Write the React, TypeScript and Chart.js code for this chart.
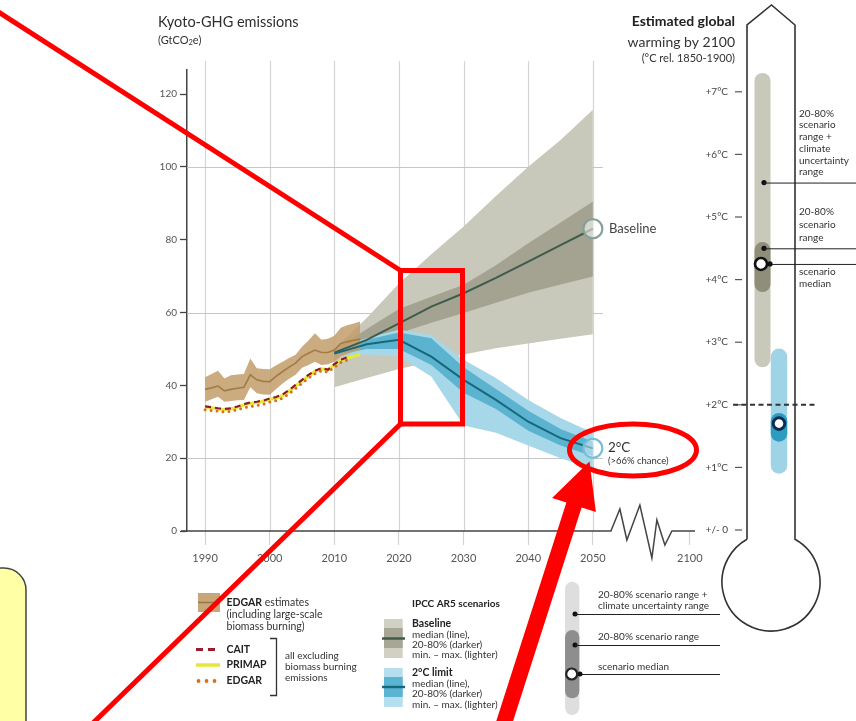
import React, { useEffect, useRef } from 'react';
import { Chart, registerables } from 'chart.js';
Chart.register(...registerables);

const FONT = 'Lato, "Open Sans", sans-serif';

// ---------- historical data (GtCO2e) ----------
const histYears = [1990,1991,1992,1993,1994,1995,1996,1997,1998,1999,2000,2001,2002,2003,2004,2005,2006,2007,2008,2009,2010,2011,2012,2013,2014];
const edgarEstMid = [38.9,39.3,39.8,38.5,38.9,39.2,39.5,42.9,41.5,41.1,41.0,42.5,43.8,45.0,46.1,47.9,48.8,49.7,49.0,49.0,49.7,51.5,52.0,52.4,52.7];
const edgarEstHigh = [42.2,43.1,44.0,41.9,42.8,43.0,43.1,47.4,44.7,44.5,44.4,45.5,46.5,47.5,48.4,50.6,52.3,54.3,52.5,52.8,53.6,55.8,56.5,57.0,57.5];
const edgarEstLow = [35.5,36.2,36.9,35.5,35.7,35.9,36.0,39.5,37.8,37.5,37.4,39.0,40.5,41.8,42.9,44.8,45.6,46.5,45.6,45.8,46.5,48.0,48.6,49.2,49.7];
const primapVals = [34.0,33.8,33.5,33.3,33.5,34.0,34.6,35.0,35.3,35.6,36.2,36.5,37.2,38.4,39.8,41.2,42.6,43.8,44.5,44.2,45.6,46.8,47.5,48.0,48.5];
const caitVals = [34.2,34.0,33.7,33.5,33.7,34.2,34.8,35.3,35.5,35.8,36.4,36.8,37.5,38.7,40.1,41.5,42.9,44.0,44.7,44.3,45.8,47.0,47.7];
const edgarVals = [33.3,33.1,32.9,32.7,32.9,33.3,33.8,34.2,34.5,34.8,35.4,35.8,36.5,37.7,39.1,40.6,42.0,43.2,44.0,43.6,45.0,46.3,47.0];

// ---------- IPCC AR5 scenarios ----------
const scenYears = [2010,2015,2020,2025,2030,2035,2040,2045,2050];
const baseMax = [50.0,58.5,68.0,76.0,83.6,92.0,100.0,107.4,115.7];
const baseP80 = [49.5,55.5,61.0,64.3,67.6,73.0,79.0,84.7,90.5];
const baseMedian = [49.0,52.5,57.0,61.6,65.3,69.5,74.0,78.5,83.0];
const baseP20 = [48.5,51.5,54.3,57.2,59.9,62.7,65.4,67.7,69.9];
const baseMin = [39.5,42.0,44.5,46.5,48.5,50.2,51.5,52.8,54.0];
const limMax = [49.8,53.0,55.3,53.8,47.0,42.0,36.0,31.0,27.0];
const limP80 = [49.3,52.5,54.5,52.9,45.0,39.0,33.0,28.0,24.5];
const limMedian = [48.7,51.3,52.5,47.9,41.5,36.0,30.0,25.5,22.7];
const limP20 = [48.3,50.0,50.0,45.6,38.0,33.5,27.5,23.5,20.5];
const limMin = [48.0,48.5,47.9,42.4,29.0,27.0,23.5,20.0,17.0];

// ---------- axes ----------
const yTickValues = [0,20,40,60,80,100,120];
const gridYValues = [20,60,100];
const xTickYears = [1990,2000,2010,2020,2030,2040,2050,2100];
const xTickLabels = ['1990','2000','2010','2020','2030','2040','2050','2100'];
const gridXYears = [1990,2000,2010,2020,2030,2040,2050];

// ---------- warming by 2100 (°C rel. 1850-1900) ----------
const thermoTicks = [0,1,2,3,4,5,6,7];
const thermoTickLabels = ['+/- 0','+1°C','+2°C','+3°C','+4°C','+5°C','+6°C','+7°C'];
const baselineWarm = [2.6, 3.8, 4.25, 4.6, 7.3]; // low, p20, median, p80, high
const limitWarm = [0.9, 1.41, 1.7, 1.87, 2.9];
const baselinePointers = [5.55, 4.5];

// compressed time axis after 2050
const X = (year: number) => (year <= 2050 ? year : 2050 + (year - 2050) * 0.3);
const pts = (years: number[], vals: number[]) => years.map((y, i) => ({ x: X(y), y: vals[i] }));

function txt(ctx: CanvasRenderingContext2D, s: string, x: number, y: number, size: number, color: string, bold = false, align: CanvasTextAlign = 'left') {
  ctx.font = `${bold ? 'bold ' : ''}${size}px ${FONT}`;
  ctx.fillStyle = color;
  ctx.textAlign = align;
  ctx.textBaseline = 'middle';
  ctx.fillText(s, x, y);
}

function bar(ctx: CanvasRenderingContext2D, x: number, yTop: number, yBot: number, w: number, color: string) {
  ctx.save();
  ctx.strokeStyle = color;
  ctx.lineWidth = w;
  ctx.lineCap = 'round';
  ctx.beginPath();
  ctx.moveTo(x, yTop + w / 2);
  ctx.lineTo(x, Math.max(yTop + w / 2, yBot - w / 2));
  ctx.stroke();
  ctx.restore();
}

const decorPlugin = {
  id: 'decor',
  beforeDraw(chart: any) {
    const ctx = chart.ctx;
    ctx.save();
    ctx.fillStyle = '#fff';
    ctx.fillRect(0, 0, chart.width, chart.height);
    ctx.restore();
  },
  beforeDatasetsDraw(chart: any) {
    const ctx = chart.ctx as CanvasRenderingContext2D;
    const xs = chart.scales.x, ys = chart.scales.y;
    const ca = chart.chartArea;
    ctx.save();
    ctx.strokeStyle = '#d4d4d4';
    ctx.lineWidth = 1.2;
    gridXYears.forEach((yr) => {
      const px = Math.round(xs.getPixelForValue(X(yr))) + 0.5;
      ctx.beginPath(); ctx.moveTo(px, ca.top - 9); ctx.lineTo(px, ca.bottom); ctx.stroke();
    });
    ctx.strokeStyle = '#c6c6c6';
    const right = xs.getPixelForValue(2050) + 10;
    gridYValues.forEach((v) => {
      const py = Math.round(ys.getPixelForValue(v)) + 0.5;
      ctx.beginPath(); ctx.moveTo(ca.left, py); ctx.lineTo(right, py); ctx.stroke();
    });
    ctx.restore();
  },
  afterDatasetsDraw(chart: any) {
    const ctx = chart.ctx as CanvasRenderingContext2D;
    const xs = chart.scales.x, ys = chart.scales.y;
    const ca = chart.chartArea;
    const y0 = ys.getPixelForValue(0);
    // zero line with axis break
    const bx = xs.getPixelForValue(2050) + 18;
    ctx.save();
    ctx.strokeStyle = '#444';
    ctx.lineWidth = 1.5;
    ctx.beginPath();
    ctx.moveTo(ca.left - 6, y0);
    ctx.lineTo(bx, y0);
    const zz = [[9, -22], [16, 9], [29, -26], [41, 27], [46, -11], [54, 14], [61, 0]];
    zz.forEach(([dx, dy]) => ctx.lineTo(bx + dx, y0 + dy));
    ctx.lineTo(ca.right, y0);
    ctx.stroke();
    ctx.restore();

    // end labels
    const mb = chart.getDatasetMeta(10).data;
    const pb = mb[mb.length - 1];
    txt(ctx, 'Baseline', pb.x + 16, pb.y, 13, '#444');
    const ml = chart.getDatasetMeta(11).data;
    const pl = ml[ml.length - 1];
    txt(ctx, '2°C', pl.x + 15, pl.y - 1, 13.5, '#333');
    txt(ctx, '(>66% chance)', pl.x + 15, pl.y + 13, 9.5, '#333');
  },
  afterDraw(chart: any) {
    const ctx = chart.ctx as CanvasRenderingContext2D;
    // ----- titles -----
    txt(ctx, 'Kyoto-GHG emissions', 158, 22, 14.5, '#2e2e2e');
    ctx.font = `11px ${FONT}`;
    txt(ctx, '(GtCO', 158, 40, 11, '#333');
    let w = ctx.measureText('(GtCO').width;
    txt(ctx, '2', 158 + w, 43, 7.5, '#333');
    ctx.font = `7.5px ${FONT}`;
    const w2 = ctx.measureText('2').width;
    txt(ctx, 'e)', 158 + w + w2, 40, 11, '#333');

    txt(ctx, 'Estimated global', 735, 21.5, 14, '#222', true, 'right');
    txt(ctx, 'warming by 2100', 735, 42, 14, '#333', false, 'right');
    txt(ctx, '(°C rel. 1850-1900)', 735, 58.5, 11, '#333', false, 'right');

    // ----- thermometer -----
    const T = (t: number) => 530 - t * 62.6;
    const bcx = 771, bcy = 582, br = 49;
    const a0 = Math.asin(24 / br); // half-angle of the neck opening
    ctx.save();
    ctx.strokeStyle = '#333';
    ctx.lineWidth = 1.6;
    ctx.beginPath();
    const yJoin = bcy - br * Math.cos(a0);
    ctx.moveTo(747, yJoin);
    ctx.lineTo(747, 25);
    ctx.lineTo(771.5, 5);
    ctx.lineTo(795, 25);
    ctx.lineTo(795, yJoin);
    ctx.arc(bcx, bcy, br, -Math.PI / 2 + a0, -Math.PI / 2 - a0 + 2 * Math.PI, false);
    ctx.stroke();
    ctx.restore();

    thermoTicks.forEach((t, i) => {
      const y = T(t);
      txt(ctx, thermoTickLabels[i], 728, y, 10, '#444', false, 'right');
      ctx.save(); ctx.strokeStyle = '#555'; ctx.lineWidth = 1.2;
      ctx.beginPath(); ctx.moveTo(735, y); ctx.lineTo(742, y); ctx.stroke(); ctx.restore();
    });

    // baseline bars
    bar(ctx, 762.5, T(baselineWarm[4]), T(baselineWarm[0]), 16, '#c9c9bb');
    bar(ctx, 762.5, T(baselineWarm[3]), T(baselineWarm[1]), 16, '#8f8e7a');
    // 2°C bars
    bar(ctx, 779, T(limitWarm[4]), T(limitWarm[0]), 16.5, '#9fd3e6');
    bar(ctx, 779, T(limitWarm[3]), T(limitWarm[1]), 16.5, '#2c9cc0');

    // 2°C dashed line
    ctx.save();
    ctx.strokeStyle = '#333'; ctx.lineWidth = 2; ctx.setLineDash([5, 3.5]);
    ctx.beginPath(); ctx.moveTo(733, T(2)); ctx.lineTo(816, T(2)); ctx.stroke();
    ctx.restore();

    // pointer lines
    ctx.save();
    ctx.strokeStyle = '#222'; ctx.fillStyle = '#111'; ctx.lineWidth = 1;
    baselinePointers.forEach((t) => {
      const y = T(t);
      ctx.beginPath(); ctx.arc(764, y, 2.6, 0, Math.PI * 2); ctx.fill();
      ctx.beginPath(); ctx.moveTo(764, y + 0.5); ctx.lineTo(856, y + 0.5); ctx.stroke();
    });
    const ym = T(baselineWarm[2]);
    ctx.beginPath(); ctx.moveTo(770, ym + 0.5); ctx.lineTo(856, ym + 0.5); ctx.stroke();
    ctx.beginPath(); ctx.arc(770, ym, 2.6, 0, Math.PI * 2); ctx.fill();
    ctx.fillStyle = '#fff'; ctx.lineWidth = 2.6; ctx.strokeStyle = '#111';
    ctx.beginPath(); ctx.arc(761, ym, 6, 0, Math.PI * 2); ctx.fill(); ctx.stroke();
    const yl = T(limitWarm[2]);
    ctx.strokeStyle = '#0d2c52'; ctx.lineWidth = 3;
    ctx.beginPath(); ctx.arc(779, yl, 5.8, 0, Math.PI * 2); ctx.fill(); ctx.stroke();
    ctx.restore();

    const tc = '#333';
    ['20-80%', 'scenario', 'range +', 'climate', 'uncertainty', 'range'].forEach((s, i) => txt(ctx, s, 799, 113.5 + i * 11.7, 10, tc));
    ['20-80%', 'scenario', 'range'].forEach((s, i) => txt(ctx, s, 799, 212 + i * 12.8, 10, tc));
    ['scenario', 'median'].forEach((s, i) => txt(ctx, s, 799, 272 + i * 11.7, 10, tc));

    // ----- bottom legend: historical -----
    ctx.save();
    ctx.fillStyle = '#c9a67a';
    ctx.fillRect(198, 593, 22, 19);
    ctx.strokeStyle = '#9c7640'; ctx.lineWidth = 1.5;
    ctx.beginPath(); ctx.moveTo(198, 602.5); ctx.lineTo(220, 602.5); ctx.stroke();
    ctx.restore();
    ctx.font = `bold 10.5px ${FONT}`;
    txt(ctx, 'EDGAR', 226.5, 603, 10.5, '#222', true);
    const we = ctx.measureText('EDGAR').width;
    txt(ctx, ' estimates', 226.5 + we, 603, 10.5, '#333');
    txt(ctx, '(including large-scale', 226.5, 615, 10.5, '#333');
    txt(ctx, 'biomass burning)', 226.5, 627, 10.5, '#333');

    ctx.save();
    ctx.lineWidth = 3;
    ctx.strokeStyle = '#9b1b30'; ctx.setLineDash([7, 5]);
    ctx.beginPath(); ctx.moveTo(196, 649.5); ctx.lineTo(220, 649.5); ctx.stroke();
    ctx.setLineDash([]);
    ctx.strokeStyle = '#e6e63c'; ctx.lineWidth = 3.5;
    ctx.beginPath(); ctx.moveTo(196, 665); ctx.lineTo(220, 665); ctx.stroke();
    ctx.fillStyle = '#d4701e';
    [198.5, 206.5, 214.5].forEach((x) => { ctx.beginPath(); ctx.arc(x, 681, 1.9, 0, Math.PI * 2); ctx.fill(); });
    ctx.strokeStyle = '#333'; ctx.lineWidth = 1.3;
    ctx.beginPath(); ctx.moveTo(270, 638.5); ctx.lineTo(276.5, 638.5); ctx.lineTo(276.5, 695.5); ctx.lineTo(270, 695.5); ctx.stroke();
    ctx.restore();
    txt(ctx, 'CAIT', 226.5, 649.5, 10.5, '#222', true);
    txt(ctx, 'PRIMAP', 226.5, 665, 10.5, '#222', true);
    txt(ctx, 'EDGAR', 226.5, 681, 10.5, '#222', true);
    txt(ctx, 'all excluding', 285, 656, 10, '#333');
    txt(ctx, 'biomass burning', 285, 667, 10, '#333');
    txt(ctx, 'emissions', 285, 678, 10, '#333');

    // ----- bottom legend: scenarios -----
    txt(ctx, 'IPCC AR5 scenarios', 412, 603.5, 10, '#222', true);
    ctx.save();
    ctx.fillStyle = '#d0d0c3'; ctx.fillRect(384, 619, 18.7, 39);
    ctx.fillStyle = '#a8a795'; ctx.fillRect(384, 628, 18.7, 20);
    ctx.strokeStyle = '#3d5c4c'; ctx.lineWidth = 2.5;
    ctx.beginPath(); ctx.moveTo(382, 638.5); ctx.lineTo(405, 638.5); ctx.stroke();
    ctx.fillStyle = '#b5dfee'; ctx.fillRect(384, 668, 18.7, 39);
    ctx.fillStyle = '#5bb5d2'; ctx.fillRect(384, 677, 18.7, 20);
    ctx.strokeStyle = '#14697e';
    ctx.beginPath(); ctx.moveTo(382, 687); ctx.lineTo(405, 687); ctx.stroke();
    ctx.restore();
    txt(ctx, 'Baseline', 412, 623.5, 10.5, '#222', true);
    txt(ctx, 'median (line),', 412, 634.5, 10, '#333');
    txt(ctx, '20-80% (darker)', 412, 644.5, 10, '#333');
    txt(ctx, 'min. – max. (lighter)', 412, 655, 10, '#333');
    txt(ctx, '2°C limit', 412, 672.5, 10.5, '#222', true);
    txt(ctx, 'median (line),', 412, 683.5, 10, '#333');
    txt(ctx, '20-80% (darker)', 412, 694, 10, '#333');
    txt(ctx, 'min. – max. (lighter)', 412, 704.5, 10, '#333');

    // ----- bottom legend: thermometer key -----
    bar(ctx, 572.2, 581.7, 715, 14.3, '#dedede');
    bar(ctx, 572.2, 630, 698.3, 14.3, '#8e8e8e');
    ctx.save();
    ctx.strokeStyle = '#222'; ctx.fillStyle = '#111'; ctx.lineWidth = 1;
    [614, 645].forEach((y) => {
      ctx.beginPath(); ctx.arc(575, y, 2.5, 0, Math.PI * 2); ctx.fill();
      ctx.beginPath(); ctx.moveTo(575, y + 0.5); ctx.lineTo(720, y + 0.5); ctx.stroke();
    });
    ctx.beginPath(); ctx.moveTo(580, 674.5); ctx.lineTo(720, 674.5); ctx.stroke();
    ctx.beginPath(); ctx.arc(580, 674, 2.5, 0, Math.PI * 2); ctx.fill();
    ctx.fillStyle = '#fff'; ctx.lineWidth = 2.2;
    ctx.beginPath(); ctx.arc(571.7, 674, 5.5, 0, Math.PI * 2); ctx.fill(); ctx.stroke();
    ctx.restore();
    txt(ctx, '20-80% scenario range +', 598, 595, 10, '#333');
    txt(ctx, 'climate uncertainty range', 598, 606, 10, '#333');
    txt(ctx, '20-80% scenario range', 598, 636.5, 10, '#333');
    txt(ctx, 'scenario median', 598, 667, 10, '#333');

    // ----- yellow note box -----
    ctx.save();
    ctx.fillStyle = '#ffffa6'; ctx.strokeStyle = '#444'; ctx.lineWidth = 1.5;
    ctx.beginPath();
    (ctx as any).roundRect(-40, 568, 66, 200, 22);
    ctx.fill(); ctx.stroke();
    ctx.restore();

    // ----- red annotations -----
    ctx.save();
    ctx.strokeStyle = '#ff0000'; ctx.fillStyle = '#ff0000'; ctx.lineWidth = 5;
    ctx.lineJoin = 'miter';
    ctx.beginPath(); ctx.moveTo(-3, 11); ctx.lineTo(400.5, 270.5); ctx.stroke();
    ctx.strokeRect(400.5, 270.5, 62, 153.5);
    ctx.beginPath(); ctx.moveTo(400.5, 424); ctx.lineTo(92, 724); ctx.stroke();
    ctx.beginPath(); ctx.ellipse(633, 450, 63.5, 26, 0, 0, Math.PI * 2); ctx.stroke();
    // arrow
    const Tp = [589.5, 461.5], B = [574, 505], C = [497, 745];
    const dx = B[0] - C[0], dy = B[1] - C[1];
    const L = Math.hypot(dx, dy);
    const n = [-dy / L, dx / L];
    const sw = 8, hw = 23;
    ctx.beginPath();
    ctx.moveTo(C[0] - n[0] * sw, C[1] - n[1] * sw);
    ctx.lineTo(B[0] - n[0] * sw, B[1] - n[1] * sw);
    ctx.lineTo(B[0] - n[0] * hw, B[1] - n[1] * hw);
    ctx.lineTo(Tp[0], Tp[1]);
    ctx.lineTo(B[0] + n[0] * hw, B[1] + n[1] * hw);
    ctx.lineTo(B[0] + n[0] * sw, B[1] + n[1] * sw);
    ctx.lineTo(C[0] + n[0] * sw, C[1] + n[1] * sw);
    ctx.closePath();
    ctx.fill();
    ctx.restore();
  },
};

const band = (data: any, color: string, order: number, fill: any = false) => ({
  data, backgroundColor: color, borderWidth: 0, pointRadius: 0, fill, order, tension: 0,
});

export default function App() {
  const ref = useRef<HTMLCanvasElement>(null);
  useEffect(() => {
    document.body.style.margin = '0';
    const last = scenYears.length - 1;
    const chart = new Chart(ref.current!, {
      type: 'line',
      data: {
        datasets: [
          band(pts(scenYears, baseMax), '#c9c9bb', 100, 1),
          band(pts(scenYears, baseMin), '#c9c9bb', 99),
          band(pts(scenYears, baseP80), '#a4a392', 98, 3),
          band(pts(scenYears, baseP20), '#a4a392', 97),
          band(pts(scenYears, limMax), '#a6d8ea', 96, 5),
          band(pts(scenYears, limMin), '#a6d8ea', 95),
          band(pts(scenYears, limP80), '#5cb3d0', 94, 7),
          band(pts(scenYears, limP20), '#5cb3d0', 93),
          band(pts(histYears, edgarEstHigh), 'rgba(194,156,106,0.85)', 92, 9),
          band(pts(histYears, edgarEstLow), 'rgba(194,156,106,0.85)', 91),
          {
            data: pts(scenYears, baseMedian), borderColor: '#3d5c4c', borderWidth: 2, fill: false, order: 10,
            pointRadius: (c: any) => (c.dataIndex === last ? 9.5 : 0),
            pointBackgroundColor: 'rgba(255,255,255,0.55)', pointBorderColor: '#84a097', pointBorderWidth: 2.2,
          },
          {
            data: pts(scenYears, limMedian), borderColor: '#15687c', borderWidth: 2, fill: false, order: 9,
            pointRadius: (c: any) => (c.dataIndex === last ? 9.5 : 0),
            pointBackgroundColor: 'rgba(255,255,255,0.45)', pointBorderColor: '#76bdd6', pointBorderWidth: 2.2,
          },
          { data: pts(histYears, edgarEstMid), borderColor: '#a37b46', borderWidth: 1.6, pointRadius: 0, fill: false, order: 8 },
          { data: pts(histYears, primapVals), borderColor: '#e8e83a', borderWidth: 3.2, pointRadius: 0, fill: false, order: 7 },
          { data: pts(histYears.slice(0, caitVals.length), caitVals), borderColor: '#8e1a2e', borderWidth: 2.2, borderDash: [6, 4], pointRadius: 0, fill: false, order: 6 },
          { data: pts(histYears.slice(0, edgarVals.length), edgarVals), borderColor: '#d4701e', borderWidth: 3, borderDash: [0, 6], borderCapStyle: 'round', pointRadius: 0, fill: false, order: 5 },
        ] as any,
      },
      options: {
        responsive: false,
        animation: false,
        events: [],
        layout: { padding: { left: 147, right: 161, top: 70, bottom: 150 } },
        plugins: { legend: { display: false }, tooltip: { enabled: false }, title: { display: false } },
        scales: {
          x: {
            type: 'linear', min: 1987.2, max: 2065.8,
            afterBuildTicks: (s: any) => { s.ticks = xTickYears.map((y) => ({ value: X(y) })); },
            afterFit: (s: any) => { s.height = 40; },
            ticks: { autoSkip: false, maxRotation: 0, padding: 7, color: '#555', font: { size: 11, family: FONT },
              callback: (_v: any, i: number) => xTickLabels[i] },
            grid: { drawOnChartArea: false, drawTicks: true, tickLength: 14, tickColor: '#d2d2d2', tickWidth: 1.2 },
            border: { display: false },
          },
          y: {
            min: 0, max: 126.6,
            afterBuildTicks: (s: any) => { s.ticks = yTickValues.map((v) => ({ value: v })); },
            afterFit: (s: any) => { s.width = 40; },
            ticks: { padding: 3, color: '#555', font: { size: 10, family: FONT } },
            grid: { drawOnChartArea: false, drawTicks: true, tickLength: 7, tickColor: '#444', tickWidth: 1.3 },
            border: { display: true, color: '#444', width: 1.5 },
          },
        },
      } as any,
      plugins: [decorPlugin],
    });
    return () => chart.destroy();
  }, []);
  return (
    <div style={{ position: 'absolute', left: 0, top: 0, width: 856, height: 721, background: '#fff' }}>
      <canvas ref={ref} width={856} height={721} style={{ display: 'block', width: 856, height: 721 }} />
    </div>
  );
}
